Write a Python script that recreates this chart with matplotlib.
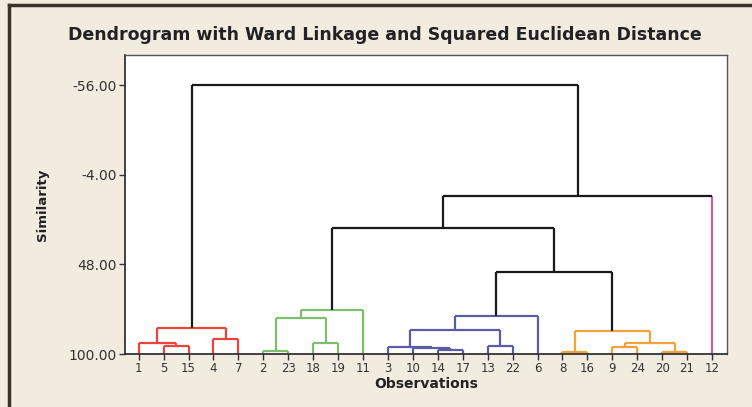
import matplotlib
matplotlib.use('Agg')
import matplotlib.pyplot as plt
from matplotlib.lines import Line2D

# leaf order along the x axis
leaves = ['1', '5', '15', '4', '7', '2', '23', '18', '19', '11', '3', '10', '14', '17',
          '13', '22', '6', '8', '16', '9', '24', '20', '21', '12']

# merges: (new cluster, left, right, similarity, colour group)
merges = [
    ('r1', '5', '15', 95.1, 'red'),
    ('r2', '1', 'r1', 93.6, 'red'),
    ('r3', '4', '7', 91.3, 'red'),
    ('R', 'r2', 'r3', 84.9, 'red'),
    ('g1', '2', '23', 98.1, 'green'),
    ('g2', '18', '19', 93.5, 'green'),
    ('g3', 'g1', 'g2', 78.9, 'green'),
    ('G', 'g3', '11', 74.5, 'green'),
    ('b1', '14', '17', 97.7, 'blue'),
    ('b2', '10', 'b1', 96.4, 'blue'),
    ('b3', '3', 'b2', 96.0, 'blue'),
    ('b4', '13', '22', 95.4, 'blue'),
    ('b5', 'b3', 'b4', 86.1, 'blue'),
    ('B', 'b5', '6', 78.0, 'blue'),
    ('o1', '8', '16', 98.7, 'orange'),
    ('o2', '9', '24', 96.1, 'orange'),
    ('o3', '20', '21', 98.7, 'orange'),
    ('o4', 'o2', 'o3', 93.8, 'orange'),
    ('O', 'o1', 'o4', 86.5, 'orange'),
    ('k1', 'B', 'O', 52.5, 'black'),
    ('k2', 'G', 'k1', 27.0, 'black'),
    ('k3', 'k2', '12', 8.4, 'black'),
    ('k4', 'R', 'k3', -56.0, 'black'),
]

colors = {'red': '#e8453c', 'green': '#7dbf6a', 'blue': '#5c5ca6',
          'orange': '#f3a23a', 'black': '#1a1a1a', 'purple': '#b46aa6'}

yticks = [-56.0, -4.0, 48.0, 100.0]

bg = '#f2ebe0'
fig = plt.figure(figsize=(7.52, 4.07), dpi=100, facecolor=bg)
ax = fig.add_axes([0.1662, 0.1302, 0.8005, 0.7346])
ax.set_facecolor('white')

pos = {name: i for i, name in enumerate(leaves)}
hgt = {name: 100.0 for name in leaves}
col = {name: None for name in leaves}
for new, a, b, h, c in merges:
    cl = colors[c]
    ca = colors[c]
    cb = colors[c]
    # single leaf joined at black level gets purple
    if c == 'black' and a in leaves:
        ca = colors['purple']
    if c == 'black' and b in leaves:
        cb = colors['purple']
    ax.plot([pos[a], pos[a]], [hgt[a], h], color=ca, lw=1.6, solid_capstyle='butt')
    ax.plot([pos[b], pos[b]], [hgt[b], h], color=cb, lw=1.6, solid_capstyle='butt')
    ax.plot([pos[a], pos[b]], [h, h], color=cl, lw=1.6, solid_capstyle='butt')
    pos[new] = (pos[a] + pos[b]) / 2
    hgt[new] = h
    col[new] = c

ax.set_xlim(-0.55, len(leaves) - 0.4)
ax.set_ylim(100, -73.4)
ax.set_xticks(range(len(leaves)))
ax.set_xticklabels(leaves, fontsize=8.5, color='#333333')
ax.set_yticks(yticks)
ax.set_yticklabels(['%.2f' % v for v in yticks], fontsize=10, color='#333333')
ax.tick_params(axis='x', length=4, width=1, color='#333333', pad=2)
ax.tick_params(axis='y', length=4, width=1, color='#333333', pad=2)
for s in ['left', 'bottom']:
    ax.spines[s].set_color('#333333')
    ax.spines[s].set_linewidth(1.3)
for s in ['top', 'right']:
    ax.spines[s].set_color('#555555')
    ax.spines[s].set_linewidth(1.0)

ax.set_xlabel('Observations', fontsize=10, fontweight='bold', color='#222222', labelpad=1)
ax.set_ylabel('Similarity', fontsize=9.5, fontweight='bold', color='#222222', labelpad=14)
fig.text(0.512, 0.914, 'Dendrogram with Ward Linkage and Squared Euclidean Distance',
         ha='center', va='center', fontsize=12.5, fontweight='bold', color='#222222')

# outer border (left and top)
fig.add_artist(Line2D([0.012, 0.012], [0, 0.988], transform=fig.transFigure, color='#3a332c', lw=2.5))
fig.add_artist(Line2D([0.012, 1.0], [0.988, 0.988], transform=fig.transFigure, color='#3a332c', lw=2.5))

plt.savefig('out.png', dpi=100, facecolor=bg)
plt.close()
